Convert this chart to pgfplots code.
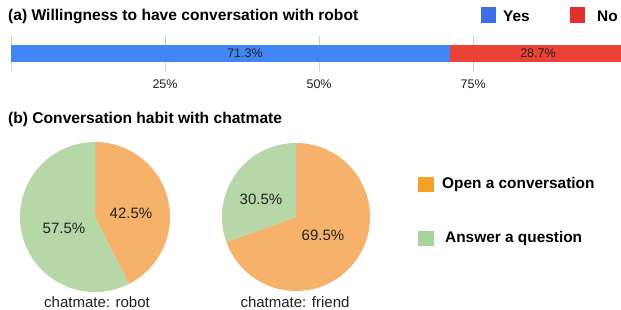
\documentclass[border=0pt]{standalone}
\usepackage{pgfplots}
\pgfplotsset{compat=1.18}
\usepackage{fontspec}
\setmainfont{Liberation Sans}
\definecolor{gblue}{HTML}{4285F4}
\definecolor{gred}{HTML}{EA4335}
\definecolor{lblue}{HTML}{3D6EE8}
\definecolor{lred}{HTML}{E2302F}
\definecolor{porange}{HTML}{F6B26B}
\definecolor{pgreen}{HTML}{B6D7A8}
\definecolor{lorange}{HTML}{F5A125}
\definecolor{lgreen}{HTML}{A8D49C}
\definecolor{txt}{HTML}{222222}
\def\robotOpen{42.5}
\def\friendOpen{69.5}
\begin{document}
\begin{tikzpicture}[x=1pt,y=1pt]
\path[use as bounding box] (0pt,0pt) rectangle (621pt,310pt);
% ---------- (a) stacked bar ----------
\node[anchor=west,font=\fontsize{15.6}{18}\selectfont\bfseries,text=black,inner sep=0] at (8pt,293.5pt) {(a) Willingness to have conversation with robot};
\fill[lblue] (481pt,287pt) rectangle (496pt,303pt);
\node[anchor=west,font=\fontsize{15.4}{18}\selectfont\bfseries,inner sep=0] at (503pt,294pt) {Yes};
\fill[lred] (570pt,287pt) rectangle (585pt,303pt);
\node[anchor=west,font=\fontsize{15.4}{18}\selectfont\bfseries,inner sep=0] at (597pt,294pt) {No};
\begin{axis}[name=bar, at={(11pt,239pt)}, anchor=south west, scale only axis,
  width=610pt, height=35pt,
  xbar stacked, bar width=17pt,
  xmin=0, xmax=99, ymin=-1, ymax=1,
  axis line style={draw=none},
  ytick=\empty,
  xtick={25,50,75}, xticklabels={25\%,50\%,75\%},
  xmajorgrids, major grid style={draw=black!18, line width=0.6pt},
  extra x ticks={0}, extra x tick labels={},
  extra x tick style={grid style={draw=black!60, line width=0.9pt}},
  tick style={draw=none},
  xticklabel style={font=\fontsize{12.5}{14}\selectfont, text=txt, yshift=-5pt},
  clip=false]
\addplot[fill=gblue, draw=none] coordinates {(71.3,0)};
\addplot[fill=gred, draw=none] coordinates {(28.7,0)};
\end{axis}
\node[font=\fontsize{12.5}{14}\selectfont, text=txt] at (245pt,256.5pt) {71.3\%};
\node[font=\fontsize{12.5}{14}\selectfont, text=txt] at (538pt,256.5pt) {28.7\%};
% ---------- (b) pies ----------
\node[anchor=west,font=\fontsize{15.6}{18}\selectfont\bfseries,inner sep=0] at (8pt,190.5pt) {(b) Conversation habit with chatmate};
\begin{axis}[at={(0pt,0pt)}, anchor=south west, x=1pt, y=1pt,
  xmin=0, xmax=621, ymin=0, ymax=310, hide axis, scale only axis, clip=false]
% robot
\fill[porange] (axis cs:95,93) -- ++(90:75pt) arc[start angle=90, end angle={90-\robotOpen*3.6}, radius=75pt] -- cycle;
\fill[pgreen] (axis cs:95,93) -- ++({90-\robotOpen*3.6}:75pt) arc[start angle={90-\robotOpen*3.6}, end angle=-270, radius=75pt] -- cycle;
% friend
\fill[porange] (axis cs:296,93) -- ++(90:74pt) arc[start angle=90, end angle={90-\friendOpen*3.6}, radius=74pt] -- cycle;
\fill[pgreen] (axis cs:296,93) -- ++({90-\friendOpen*3.6}:74pt) arc[start angle={90-\friendOpen*3.6}, end angle=-270, radius=74pt] -- cycle;
\node[font=\fontsize{15}{17}\selectfont, text=txt] at (axis cs:131,97) {42.5\%};
\node[font=\fontsize{15}{17}\selectfont, text=txt] at (axis cs:64,82) {57.5\%};
\node[font=\fontsize{15}{17}\selectfont, text=txt] at (axis cs:261,111) {30.5\%};
\node[font=\fontsize{15}{17}\selectfont, text=txt] at (axis cs:323,75) {69.5\%};
\node[font=\fontsize{15}{17}\selectfont, text=txt] at (axis cs:97,8) {chatmate: robot};
\node[font=\fontsize{15}{17}\selectfont, text=txt] at (axis cs:295,8) {chatmate: friend};
\end{axis}
\fill[lorange] (418pt,118pt) rectangle (434pt,133pt);
\node[anchor=west,font=\fontsize{15.4}{18}\selectfont\bfseries,inner sep=0] at (442pt,125pt) {Open a conversation};
\fill[lgreen] (418pt,64pt) rectangle (434pt,79pt);
\node[anchor=west,font=\fontsize{15.4}{18}\selectfont\bfseries,inner sep=0] at (445pt,71pt) {Answer a question};
\end{tikzpicture}
\end{document}
